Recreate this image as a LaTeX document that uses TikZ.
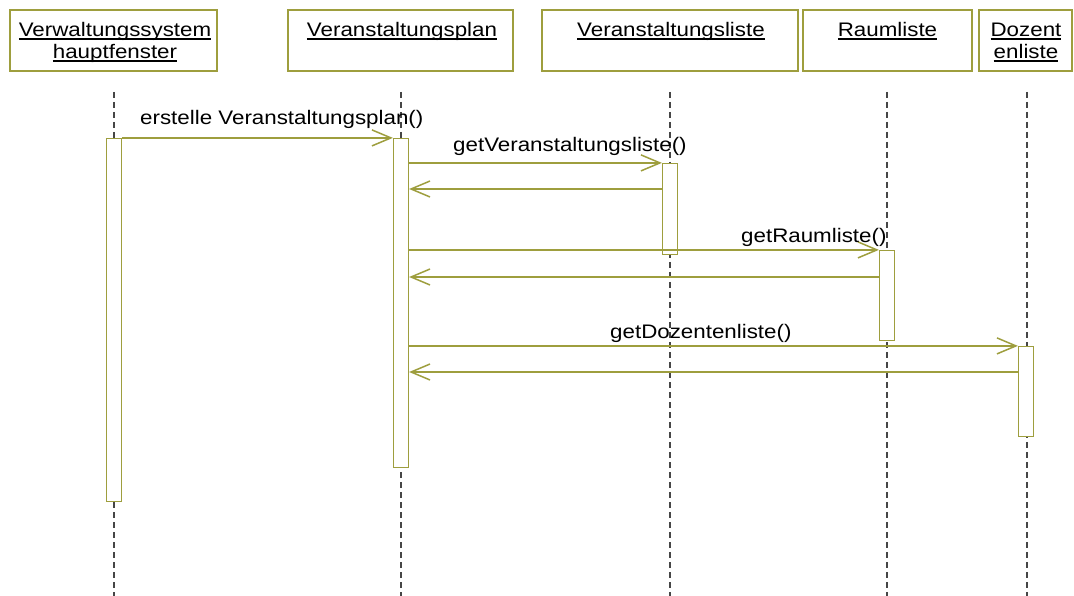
\documentclass[tikz,border=0pt]{standalone}
\usepackage{graphicx}
\usepackage{fontspec}
\setmainfont{Liberation Sans}
\usetikzlibrary{arrows.meta}
\definecolor{olivel}{RGB}{158,158,62}
\definecolor{lifec}{RGB}{70,70,70}
\newcommand\lbltxt[1]{\scalebox{1.14}[1]{#1}}
\newcommand\ultxt[1]{\setbox0\hbox{#1}\rlap{\rule[-2.6pt]{\wd0}{1.1pt}}\box0}
\begin{document}
\begin{tikzpicture}[x=1pt,y=-1pt,
  hbox/.style={draw=olivel,line width=1.2pt,inner sep=0pt,rectangle},
  act/.style={draw=olivel,fill=white,line width=1.2pt,inner sep=0pt,minimum width=15pt,rectangle},
  life/.style={draw=lifec,line width=1.2pt,dash pattern=on 6pt off 4pt},
  msg/.style={draw=olivel,line width=1.6pt,-{Straight Barb[length=19pt,width=16pt,line width=1.5pt]}},
  txt/.style={inner sep=0pt,font=\fontsize{19.6}{22}\selectfont,anchor=base},
  mlbl/.style={inner sep=0pt,font=\fontsize{19.6}{22}\selectfont,anchor=base west}]
\useasboundingbox (0,0) rectangle (1074,596);
% header boxes
\node[hbox,minimum width=207pt,minimum height=61pt] (h1) at (113.5,40.5) {};
\node[hbox,minimum width=225pt,minimum height=61pt] (h2) at (400.5,40.5) {};
\node[hbox,minimum width=256pt,minimum height=61pt] (h3) at (670,40.5) {};
\node[hbox,minimum width=169pt,minimum height=61pt] (h4) at (887.5,40.5) {};
\node[hbox,minimum width=93pt,minimum height=61pt] (h5) at (1025.5,40.5) {};
% header texts
\node[txt] (t1a) at (115,37) {\lbltxt{\ultxt{Verwaltungssystem}}};
\node[txt] (t1b) at (115,59) {\lbltxt{\ultxt{hauptfenster}}};
\node[txt] (t2) at (402,37) {\lbltxt{\ultxt{Veranstaltungsplan}}};
\node[txt] (t3) at (671,37) {\lbltxt{\ultxt{Veranstaltungsliste}}};
\node[txt] (t4) at (887.5,37) {\lbltxt{\ultxt{Raumliste}}};
\node[txt] (t5a) at (1026,37) {\lbltxt{\ultxt{Dozent}}};
\node[txt] (t5b) at (1026,59) {\lbltxt{\ultxt{enliste}}};
% lifelines
\coordinate (l1t) at (114,92);  \coordinate (l1b) at (114,596);
\coordinate (l2t) at (401,92);  \coordinate (l2b) at (401,596);
\coordinate (l3t) at (670,92);  \coordinate (l3b) at (670,596);
\coordinate (l4t) at (887,92);  \coordinate (l4b) at (887,596);
\coordinate (l5t) at (1027,92); \coordinate (l5b) at (1027,596);
\draw[life] (l1t) -- (l1b);
\draw[life] (l2t) -- (l2b);
\draw[life] (l3t) -- (l3b);
\draw[life] (l4t) -- (l4b);
\draw[life] (l5t) -- (l5b);
% activations
\node[act,minimum height=363pt] (a1) at (114,320) {};
\node[act,minimum height=329pt] (a2) at (401,303) {};
\node[act,minimum height=91pt] (a3) at (670,209) {};
\node[act,minimum height=90pt] (a4) at (887,295.5) {};
\node[act,minimum height=90pt] (a5) at (1026,391.5) {};
% return levels
\coordinate (r1) at (0,189);
\coordinate (r2) at (0,277);
\coordinate (r3) at (0,372);
% messages
\draw[msg] (a1.north east) -- (a2.north west);
\draw[msg] (a2.east |- a3.north) -- (a3.north west);
\draw[msg] (a3.west |- r1) -- (a2.east |- r1);
\draw[msg] (a2.east |- a4.north) -- (a4.north west);
\draw[msg] (a4.west |- r2) -- (a2.east |- r2);
\draw[msg] (a2.east |- a5.north) -- (a5.north west);
\draw[msg] (a5.west |- r3) -- (a2.east |- r3);
% labels
\node[mlbl] (m1) at (140,125) {\lbltxt{erstelle Veranstaltungsplan()}};
\node[mlbl] (m2) at (453,152) {\lbltxt{getVeranstaltungsliste()}};
\node[mlbl] (m3) at (741,243) {\lbltxt{getRaumliste()}};
\node[mlbl] (m4) at (610,338) {\lbltxt{getDozentenliste()}};
\end{tikzpicture}
\end{document}
